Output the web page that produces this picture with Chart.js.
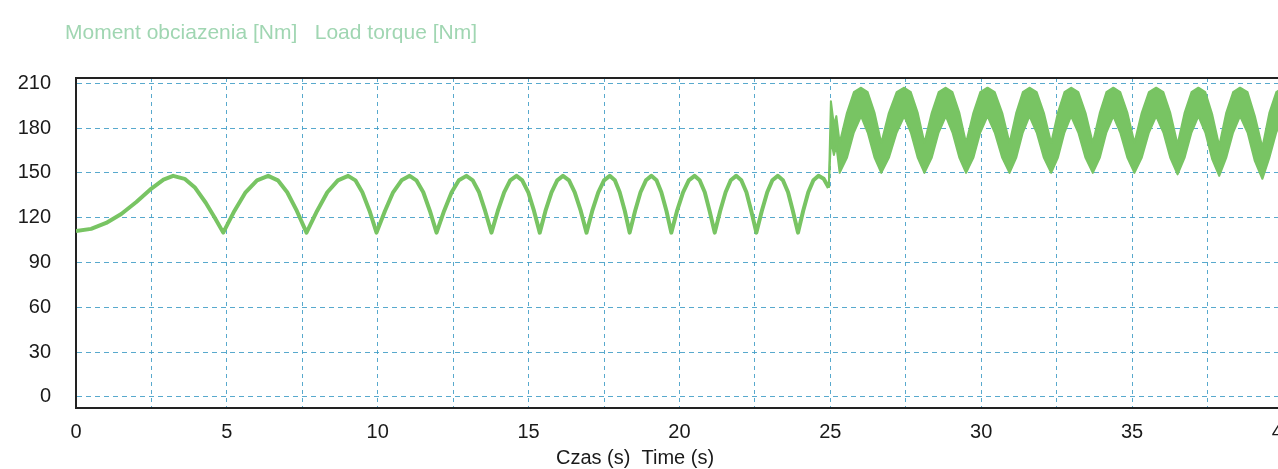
<!DOCTYPE html>
<html>
<head>
<meta charset="utf-8">
<script src="https://cdn.jsdelivr.net/npm/chart.js@4.4.0/dist/chart.umd.min.js"></script>
<style>
html, body { margin: 0; padding: 0; background: #fff; overflow: hidden; }
#wrap { width: 1306px; height: 469px; }
</style>
</head>
<body>
<div id="wrap"><canvas id="grafico" width="1306" height="469"></canvas></div>
<script>
// czas [s] / moment [Nm]
var czasA = [0, 0.5, 1.0, 1.5, 2.0, 2.5, 2.9, 3.22, 3.6, 3.95, 4.3, 4.6, 4.88,
    5.25, 5.62, 6.0, 6.37, 6.69, 7.0, 7.32, 7.64,
    7.99, 8.33, 8.68, 9.02, 9.26, 9.49, 9.73, 9.96,
    10.24, 10.51, 10.79, 11.06, 11.28, 11.51, 11.73, 11.95,
    12.20, 12.45, 12.69, 12.94, 13.15, 13.36, 13.56, 13.77,
    13.98, 14.19, 14.39, 14.60, 14.79, 14.99, 15.18, 15.37,
    15.56, 15.76, 15.95, 16.14, 16.34, 16.53, 16.73, 16.92,
    17.11, 17.31, 17.50, 17.69, 17.86, 18.02, 18.19, 18.35,
    18.53, 18.71, 18.89, 19.07, 19.24, 19.40, 19.57, 19.73,
    19.92, 20.12, 20.31, 20.50, 20.67, 20.84, 21.00, 21.17,
    21.35, 21.53, 21.70, 21.88, 22.05, 22.22, 22.38, 22.55,
    22.73, 22.91, 23.08, 23.26, 23.43, 23.60, 23.76, 23.93,
    24.10, 24.27, 24.44, 24.61, 24.78, 24.95];
var momentA = [111, 112.5, 116.5, 122.5, 130.5, 139.5, 145.5, 148, 146, 140, 130, 120, 110,
    124.5, 137, 145, 148, 145, 137, 124.5, 110,
    124.5, 137, 145, 148, 145, 137, 124.5, 110,
    124.5, 137, 145, 148, 145, 137, 124.5, 110,
    124.5, 137, 145, 148, 145, 137, 124.5, 110,
    124.5, 137, 145, 148, 145, 137, 124.5, 110,
    124.5, 137, 145, 148, 145, 137, 124.5, 110,
    124.5, 137, 145, 148, 145, 137, 124.5, 110,
    124.5, 137, 145, 148, 145, 137, 124.5, 110,
    124.5, 137, 145, 148, 145, 137, 124.5, 110,
    124.5, 137, 145, 148, 145, 137, 124.5, 110,
    124.5, 137, 145, 148, 145, 137, 124.5, 110,
    124.5, 137, 145, 148, 146, 140];

// po 25 s: pasmo oscylacji - gorna i dolna obwiednia
var czasB = [24.95, 25.02, 25.12, 25.20, 25.31,
    25.55, 25.78, 26.02, 26.24, 26.47, 26.69,
    26.94, 27.20, 27.45, 27.67, 27.90, 28.12,
    28.36, 28.59, 28.83, 29.05, 29.28, 29.50,
    29.74, 29.97, 30.21, 30.45, 30.70, 30.94,
    31.16, 31.38, 31.60, 31.84, 32.08, 32.32,
    32.54, 32.76, 32.98, 33.22, 33.46, 33.70,
    33.93, 34.15, 34.38, 34.61, 34.85, 35.08,
    35.32, 35.56, 35.80, 36.04, 36.27, 36.51,
    36.74, 36.97, 37.20, 37.43, 37.66, 37.89,
    38.12, 38.35, 38.58, 38.83, 39.07, 39.32,
    39.55, 39.78, 40.0];
var momentBgora = [140, 198, 182, 188, 170,
    190, 204, 207, 204, 190, 170,
    190, 204, 207, 204, 190, 170,
    190, 204, 207, 204, 190, 170,
    190, 204, 207, 204, 190, 170,
    190, 204, 207, 204, 190, 170,
    190, 204, 207, 204, 190, 170,
    190, 204, 207, 204, 190, 170,
    190, 204, 207, 204, 190, 169,
    190, 204, 207, 204, 189, 168,
    190, 204, 207, 204, 188, 167,
    190, 204, 207];
var momentBdol = [140, 172, 162, 168, 150,
    160, 177, 188, 177, 160, 150,
    160, 177, 188, 177, 160, 150,
    160, 177, 188, 177, 160, 150,
    160, 177, 188, 177, 160, 150,
    160, 177, 188, 177, 160, 150,
    160, 177, 188, 177, 160, 150,
    160, 177, 188, 177, 160, 150,
    160, 177, 188, 177, 160, 149,
    160, 177, 188, 177, 159, 148,
    160, 177, 188, 177, 158, 146,
    160, 177, 188];

var xTicks = [0, 2.5, 5, 7.5, 10, 12.5, 15, 17.5, 20, 22.5, 25, 27.5, 30, 32.5, 35, 37.5, 40];
var yTicks = [0, 30, 60, 90, 120, 150, 180, 210];

var tytul = 'Moment obciazenia [Nm]   Load torque [Nm]';
var tytulOsiX = 'Czas (s)  Time (s)';

var fontFam = "'Liberation Sans', Arial, sans-serif";
var zielony = '#78c463';
var siatka = 'rgba(70, 160, 200, 0.9)';

function punkty(xs, ys) {
    return xs.map(function(t, i) { return { x: t, y: ys[i] }; });
}

// teksty tytulu i osi + gorna ramka
var napisy = {
    id: 'napisy',
    afterDraw: function(chart) {
        var ctx = chart.ctx;
        var a = chart.chartArea;
        ctx.save();
        ctx.strokeStyle = '#222';
        ctx.lineWidth = 2;
        ctx.beginPath();
        ctx.moveTo(a.left, a.top);
        ctx.lineTo(a.right, a.top);
        ctx.stroke();
        ctx.font = '21px ' + fontFam;
        ctx.textBaseline = 'middle';
        ctx.fillStyle = 'rgb(160, 214, 178)';
        ctx.textAlign = 'left';
        ctx.fillText(tytul, 65, 33);
        ctx.font = '20px ' + fontFam;
        ctx.fillStyle = '#1a1a1a';
        ctx.textAlign = 'center';
        ctx.fillText(tytulOsiX, 635, 458);
        ctx.restore();
    }
};

var ctx = document.getElementById('grafico').getContext('2d');
var grafico = new Chart(ctx, {
    type: 'line',
    data: {
        datasets: [{
            label: 'A',
            data: punkty(czasA, momentA),
            borderColor: zielony,
            borderWidth: 4,
            pointRadius: 0,
            tension: 0,
            borderJoinStyle: 'round',
            fill: false
        }, {
            label: 'B gora',
            data: punkty(czasB, momentBgora),
            borderColor: zielony,
            borderWidth: 2,
            pointRadius: 0,
            tension: 0,
            borderJoinStyle: 'round',
            fill: false
        }, {
            label: 'B dol',
            data: punkty(czasB, momentBdol),
            borderColor: zielony,
            backgroundColor: zielony,
            borderWidth: 2,
            pointRadius: 0,
            tension: 0,
            borderJoinStyle: 'round',
            fill: '-1'
        }]
    },
    options: {
        responsive: false,
        animation: false,
        devicePixelRatio: 1,
        layout: { padding: { top: 78, left: 0, right: 0, bottom: 0 } },
        plugins: {
            legend: { display: false },
            tooltip: { enabled: false }
        },
        scales: {
            x: {
                type: 'linear',
                min: 0,
                max: 40,
                afterBuildTicks: function(s) { s.ticks = xTicks.map(function(v) { return { value: v }; }); },
                afterFit: function(s) { s.height = 61; },
                ticks: {
                    autoSkip: false,
                    maxRotation: 0,
                    padding: 12,
                    color: '#1a1a1a',
                    font: { family: fontFam, size: 20 },
                    callback: function(v) { return v % 5 === 0 ? v : ''; }
                },
                grid: { color: siatka, lineWidth: 1, drawTicks: false },
                border: { display: true, color: '#222', width: 2, dash: [4, 4] }
            },
            y: {
                min: -7.4,
                max: 213.5,
                afterBuildTicks: function(s) { s.ticks = yTicks.map(function(v) { return { value: v }; }); },
                afterFit: function(s) { s.width = 76; },
                ticks: {
                    padding: 25,
                    color: '#1a1a1a',
                    font: { family: fontFam, size: 20 }
                },
                grid: { color: siatka, lineWidth: 1, drawTicks: false },
                border: { display: true, color: '#222', width: 2, dash: [5, 4] }
            }
        }
    },
    plugins: [napisy]
});
</script>
</body>
</html>
